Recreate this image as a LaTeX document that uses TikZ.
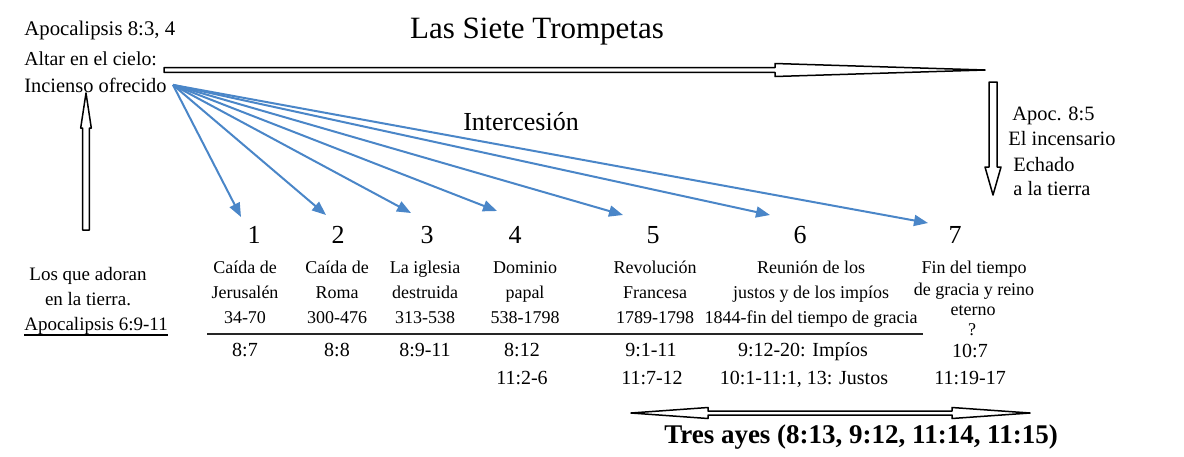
\documentclass[tikz,border=0pt]{standalone}
\usepackage{fontspec}
\setmainfont{Liberation Serif}
\usetikzlibrary{arrows.meta,calc}
\definecolor{blueln}{RGB}{74,134,200}
\newcommand\fsz[1]{\fontsize{#1}{#1}\selectfont}
\begin{document}
\begin{tikzpicture}[x=0.5pt,y=-0.5pt,
  txt/.style={inner sep=0pt,anchor=base},
  txtw/.style={inner sep=0pt,anchor=base west},
  ftop/.style={font=\fsz{10.2}},
  fcol/.style={font=\fsz{9}},
  fref/.style={font=\fsz{10}},
  fnum/.style={font=\fsz{13}},
  dbl/.style={draw=black,fill=white,line width=0.75pt,line join=round},
  blu/.style={draw=blueln,line width=1pt,-{Triangle[length=7pt,width=5.5pt]}},
  rulestyle/.style={draw=black!85,line width=0.7pt}]
\fill[white] (0,0) rectangle (1184,456);
\useasboundingbox (0,0) rectangle (1184,456);

% top left
\node[txtw,font=\fsz{10.4}] (ap) at (24,35) {Apocalipsis 8:3, 4};
\node[txtw,font=\fsz{9.9}] (alt) at (24,65) {Altar en el cielo:};
\node[txtw,font=\fsz{10.2}] (inc) at (24,92) {Incienso ofrecido};

% titles
\node[txt,font=\fsz{15.5}] (title) at (537,38) {Las Siete Trompetas};
\node[txt,font=\fsz{13}] (inter) at (521,130) {Intercesión};

% right side
\node[txtw,ftop] (r1) at (1012,120) {Apoc. 8:5};
\node[txtw,ftop] (r2) at (1008,145) {El incensario};
\node[txtw,ftop] (r3) at (1013,171) {Echado};
\node[txtw,ftop] (r4) at (1013,195) {a la tierra};

% left bottom
\node[txt,font=\fsz{9.5}] (l1) at (88,280) {Los que adoran};
\node[txt,font=\fsz{9.5}] (l2) at (88,305) {en la tierra.};
\node[txtw,font=\fsz{9.5}] (l3) at (24,330) {Apocalipsis 6:9-11};
\draw[line width=0.6pt] ([yshift=-2.5pt]l3.base west) -- ([yshift=-2.5pt]l3.base east);

% digits
\node[txt,fnum] (n1) at (254,243) {1};
\node[txt,fnum] (n2) at (338,243) {2};
\node[txt,fnum] (n3) at (427,243) {3};
\node[txt,fnum] (n4) at (515,243) {4};
\node[txt,fnum] (n5) at (653,243) {5};
\node[txt,fnum] (n6) at (800,243) {6};
\node[txt,fnum] (n7) at (955,243) {7};

% column headings
\node[txt,fcol] (c1a) at (245,273) {Caída de};
\node[txt,fcol] (c1b) at (245,298) {Jerusalén};
\node[txt,fcol] (c1c) at (245,323) {34-70};
\node[txt,fcol] (c2a) at (337,273) {Caída de};
\node[txt,fcol] (c2b) at (337,298) {Roma};
\node[txt,fcol] (c2c) at (337,323) {300-476};
\node[txt,fcol] (c3a) at (425,273) {La iglesia};
\node[txt,fcol] (c3b) at (425,298) {destruida};
\node[txt,fcol] (c3c) at (425,323) {313-538};
\node[txt,fcol] (c4a) at (525,273) {Dominio};
\node[txt,fcol] (c4b) at (525,298) {papal};
\node[txt,fcol] (c4c) at (525,323) {538-1798};
\node[txt,fcol] (c5a) at (655,273) {Revolución};
\node[txt,fcol] (c5b) at (655,298) {Francesa};
\node[txt,fcol] (c5c) at (655,323) {1789-1798};
\node[txt,fcol] (c6a) at (811,273) {Reunión de los};
\node[txt,fcol] (c6b) at (811,298) {justos y de los impíos};
\node[txt,fcol] (c6c) at (811,323) {1844-fin del tiempo de gracia};
\node[txt,fcol] (c7a) at (974,273) {Fin del tiempo};
\node[txt,fcol] (c7b) at (974,295) {de gracia y reino};
\node[txt,fcol] (c7c) at (973,315) {eterno};
\node[txt,fcol] (c7d) at (972,335) {?};

% rule
\coordinate (ruleL) at (207,334);
\coordinate (ruleR) at (923,334);
\draw[rulestyle] (ruleL) -- (ruleR);

% references
\node[txt,fref] (f1a) at (245,356) {8:7};
\node[txt,fref] (f2a) at (337,356) {8:8};
\node[txt,fref] (f3a) at (425,356) {8:9-11};
\node[txt,fref] (f4a) at (522,356) {8:12};
\node[txt,fref] (f4b) at (522,384) {11:2-6};
\node[txt,fref] (f5a) at (651,356) {9:1-11};
\node[txt,fref] (f5b) at (652,384) {11:7-12};
\node[txt,fref] (f6a) at (803,356) {9:12-20: Impíos};
\node[txt,fref] (f6b) at (804,384) {10:1-11:1, 13: Justos};
\node[txt,fref] (f7a) at (970,357) {10:7};
\node[txt,fref] (f7b) at (970,384) {11:19-17};

% bottom label
\node[txt,font=\fsz{13.5}\bfseries] (ayes) at (861,443) {Tres ayes (8:13, 9:12, 11:14, 11:15)};

% double-line arrows
\draw[dbl] (164,67.7) -- (775,67.7) -- (775,63.5) -- (985,70) -- (775,76.5) -- (775,72.3) -- (164,72.3) -- cycle;
\draw[dbl] (631,413) -- (708,407.5) -- (708,411) -- (952,411) -- (952,407.5) -- (1030,413) -- (952,418.5) -- (952,415) -- (708,415) -- (708,418.5) -- cycle;
\draw[dbl] (989,82) -- (997,82) -- (997,167) -- (1001,167) -- (993,195) -- (985,167) -- (989,167) -- cycle;
\draw[dbl] (82.7,230) -- (89.3,230) -- (89.3,128) -- (91.3,128) -- (86,93) -- (80.7,128) -- (82.7,128) -- cycle;

% intercession arrows
\coordinate (src) at ([xshift=3pt]inc.east);
\coordinate (t1) at (241,217);
\coordinate (t2) at (326,215);
\coordinate (t3) at (411,213);
\coordinate (t4) at (497,211);
\coordinate (t5) at (623,215);
\coordinate (t6) at (770,215);
\coordinate (t7) at (928,223);
\foreach \t in {t1,t2,t3,t4,t5,t6,t7} \draw[blu] (src) -- (\t);
\end{tikzpicture}
\end{document}
